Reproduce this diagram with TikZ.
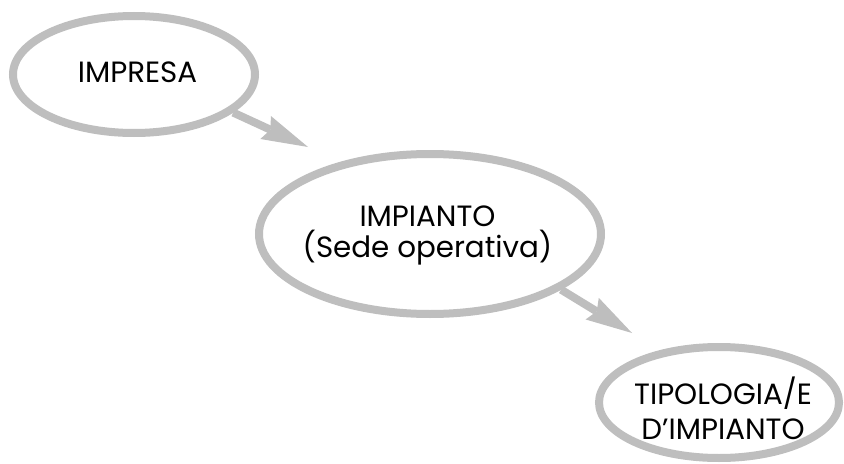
\documentclass[tikz,border=0pt]{standalone}
\usepackage{fontspec}
\setmainfont{Poppins}
\usetikzlibrary{shapes.geometric,arrows.meta}
\definecolor{ringgray}{RGB}{190,190,190}
\begin{document}
\begin{tikzpicture}[x=0.75pt,y=-0.75pt,
  ring/.style={ellipse,draw=ringgray,line width=6pt,fill=white,inner sep=0pt},
  lbl/.style={align=center,inner sep=0pt,text=black},
  flow/.style={draw=ringgray,line width=6pt,-{Stealth[length=35pt,width=19pt,inset=4pt,line width=0pt]}}]
\useasboundingbox (0,0) rectangle (844,464);
\node[ring,minimum width=181.5pt,minimum height=87.75pt] (e1) at (134,74.5) {};
\node[ring,minimum width=256.5pt,minimum height=120pt] (e2) at (430,234) {};
\node[ring,minimum width=180pt,minimum height=83.25pt] (e3) at (719,402.5) {};
\node[lbl,font=\fontsize{22}{24}\selectfont] (l1) at (137.5,72.5) {IMPRESA};
\node[lbl,font=\fontsize{22}{23.25}\selectfont] (l2) at (427.5,235) {IMPIANTO\\(Sede operativa)};
\node[lbl,font=\fontsize{22}{26}\selectfont] (l3) at (723,408.5) {TIPOLOGIA/E\\D’IMPIANTO};
\coordinate (t1) at (308,147);
\coordinate (t2) at (632,333);
\draw[flow] (e1.-21) -- (t1);
\draw[flow] (e2.-23) -- (t2);
\end{tikzpicture}
\end{document}
